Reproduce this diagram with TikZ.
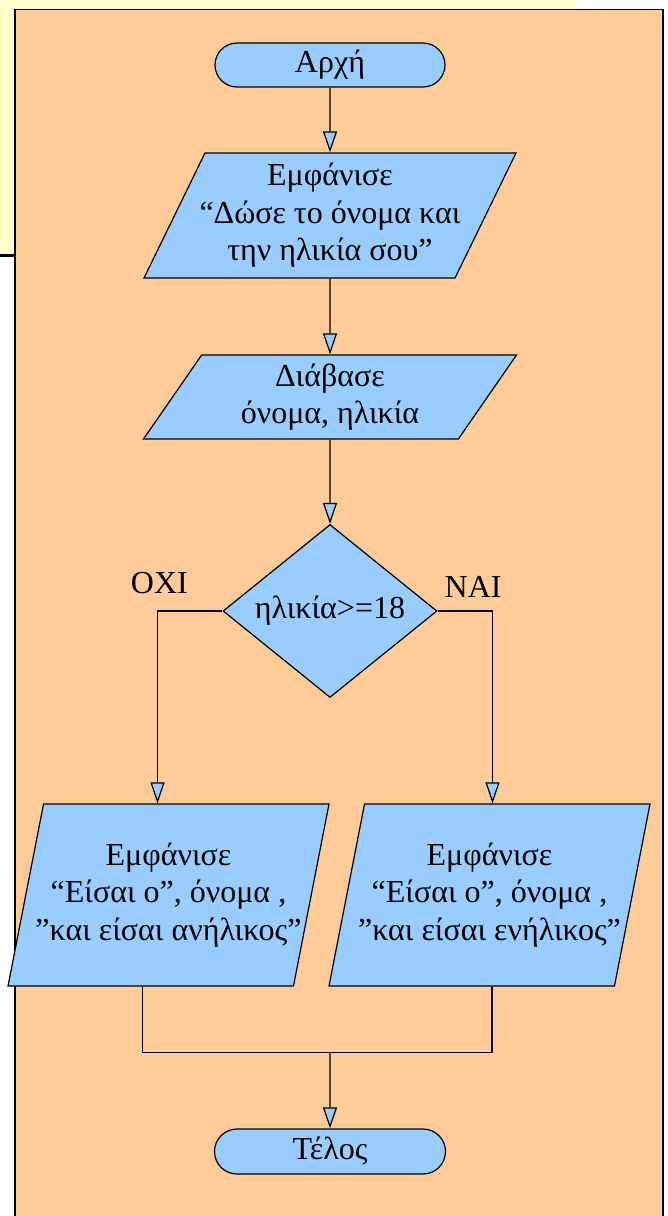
\documentclass[tikz,border=0pt]{standalone}
\usepackage{fontspec}
\setmainfont{Liberation Serif}
\usetikzlibrary{shapes.geometric,shapes.misc,arrows.meta}

\definecolor{slideyellow}{RGB}{255,255,204}
\definecolor{pageorange}{RGB}{255,204,153}
\definecolor{boxblue}{RGB}{153,204,255}

\begin{document}
\begin{tikzpicture}[x=1pt,y=-1pt,
  every node/.style={font=\fontsize{32}{37.5}\selectfont},
  base/.style={draw=black,fill=boxblue,line width=1.2pt,inner sep=0pt,align=center},
  term/.style={base,rounded rectangle,minimum width=230pt,minimum height=44pt},
  showbox/.style={base,trapezium,trapezium stretches body,inner xsep=-12pt,
    trapezium left angle=59.7,trapezium right angle=120.3,
    minimum height=125pt,minimum width=372pt},
  readbox/.style={base,trapezium,trapezium stretches body,
    trapezium left angle=49.0,trapezium right angle=131.0,
    minimum height=84pt,minimum width=373pt},
  answerbox/.style={base,trapezium,trapezium stretches body,inner xsep=-14pt,
    trapezium left angle=71.2,trapezium right angle=108.8,
    minimum height=182pt,minimum width=321pt},
  testbox/.style={base,diamond,aspect=1.237,minimum width=214pt,minimum height=173pt},
  line/.style={draw=black,line width=1.2pt},
  flow/.style={line,-{Triangle[length=21pt,width=14pt,fill=boxblue]}}]

% background: slide and page
\fill[white] (0,0) rectangle (667,1216);
\useasboundingbox (0,0) rectangle (667,1216);
\fill[slideyellow] (0,0) rectangle (576,254);
\draw[line width=3.3pt] (0,255.5) -- (576,255.5);
\filldraw[fill=pageorange,draw=black,line width=1.3pt] (15,9.5) rectangle (663,1230);

% main column
\node[term]      (start)                                      at (330,65) {Αρχή};
\node[showbox]   (show)  [below of=start, node distance=150.5pt] {Εμφάνισε\\“Δώσε το όνομα και\\την ηλικία σου”};
\node[readbox]   (read)  [below of=show,  node distance=181.5pt] {Διάβασε\\όνομα, ηλικία};
\node[testbox]   (check) [below of=read,  node distance=214pt]   {ηλικία>=18};

% the two answers
\node[answerbox] (no)    [below of=check, node distance=284pt, xshift=-161.5pt] {Εμφάνισε\\“Είσαι ο”, όνομα ,\\”και είσαι ανήλικος”};
\node[answerbox] (yes)   [below of=check, node distance=284pt, xshift=159.5pt]  {Εμφάνισε\\“Είσαι ο”, όνομα ,\\”και είσαι ενήλικος”};
\node[term, minimum width=231pt, minimum height=45pt] (stop) [below of=check, node distance=540.5pt] {Τέλος};

\node (oxi) at ([xshift=-63pt,yshift=28pt]check.west) {ΟΧΙ};
\node (nai) at ([xshift=35.5pt,yshift=24pt]check.east) {ΝΑΙ};

% connectors
\draw[flow] (start) -- (show);
\draw[flow] (show) -- (read);
\draw[flow] (read) -- (check);
\draw[flow] (check.west) -| ([xshift=-11pt]no.north);
\draw[flow] (check.east) -| ([xshift=3pt]yes.north);
\coordinate (join) at ([yshift=76pt]stop.north);
\draw[line] ([xshift=-26pt]no.south) |- (join);
\draw[line] ([xshift=2.5pt]yes.south) |- (join);
\draw[flow] (join) -- (stop);

\end{tikzpicture}
\end{document}
